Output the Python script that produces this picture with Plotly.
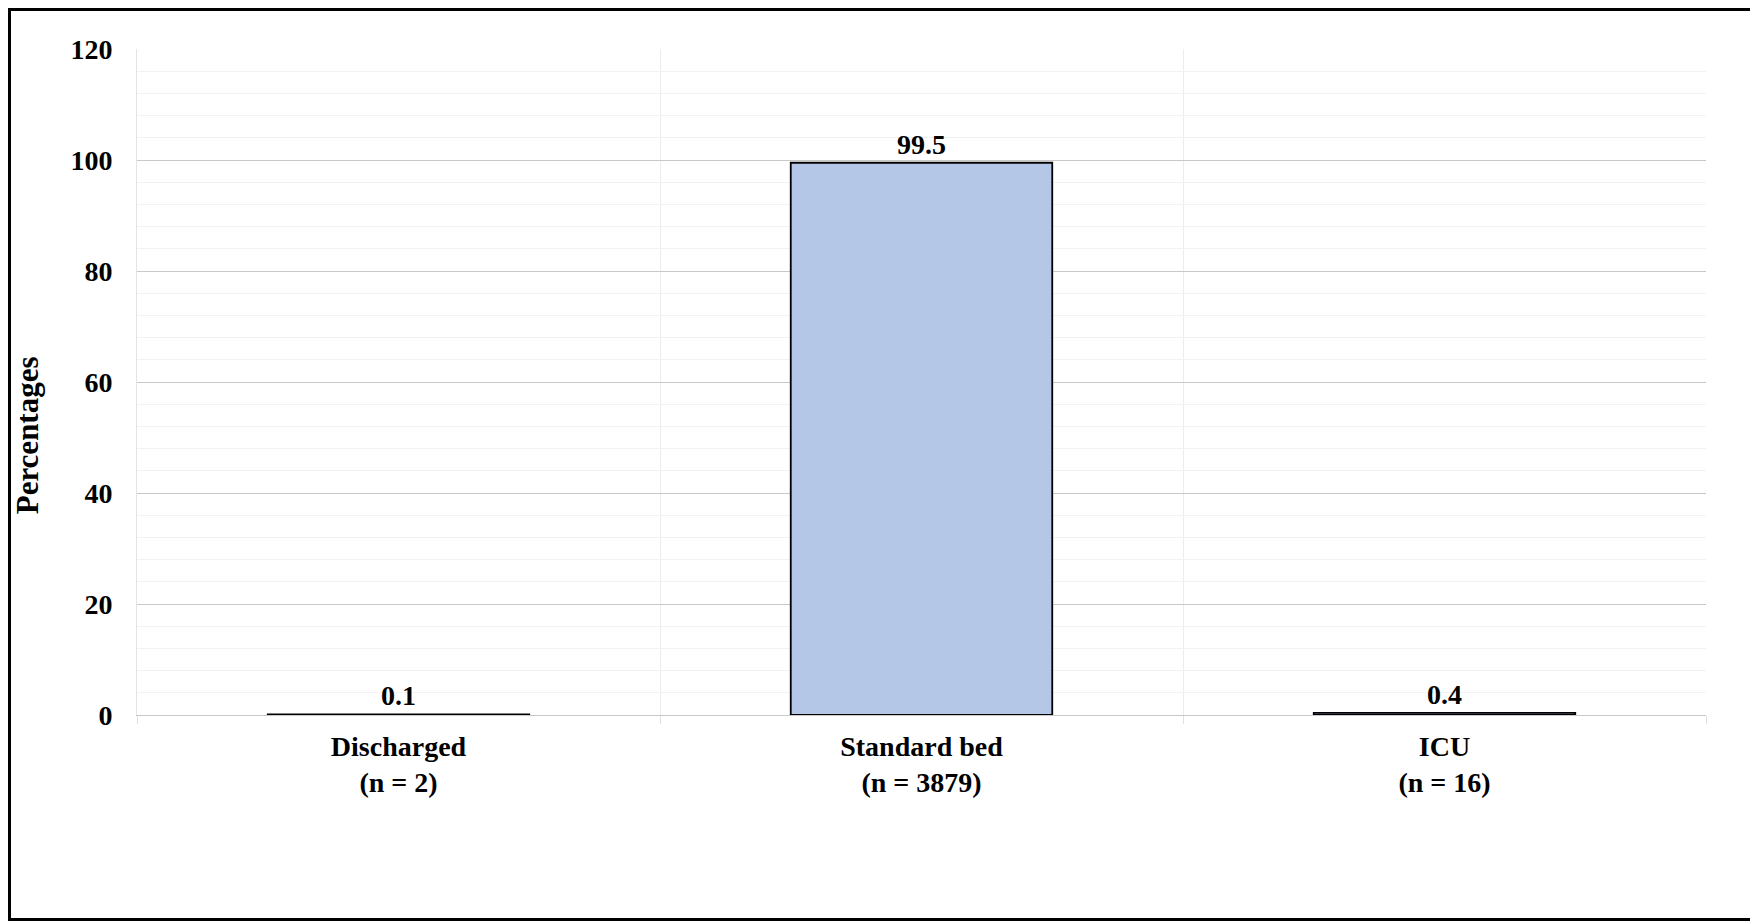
import plotly.graph_objects as go

# данные
categories = ["Discharged<br>(n = 2)", "Standard bed<br>(n = 3879)", "ICU<br>(n = 16)"]
percentages = [0.1, 99.5, 0.4]
y_ticks = [0, 20, 40, 60, 80, 100, 120]

# страница смещена на 8px (отступ body), поэтому фигура чуть меньше окна
W, H = 1750, 913
ml, mr, mt, mb = 129, 52, 41, 206
pw = W - ml - mr
ph = H - mt - mb

font = dict(family="Liberation Serif, Times New Roman, serif", color="black", size=28)

fig = go.Figure()
fig.add_trace(go.Bar(
    x=list(range(len(categories))),
    y=percentages,
    width=0.5,
    marker=dict(color="#B4C7E7", line=dict(color="black", width=1.8)),
    text=[f"<b>{v}</b>" for v in percentages],
    textposition="outside",
    textfont=font,
    cliponaxis=False,
))

fig.update_layout(
    width=W, height=H,
    margin=dict(l=ml, r=mr, t=mt, b=mb),
    plot_bgcolor="white", paper_bgcolor="white",
    showlegend=False,
    font=font,
    xaxis=dict(
        range=[-0.5, 2.5],
        tickvals=list(range(len(categories))),
        ticktext=[f"<b>{c}</b>" for c in categories],
        showgrid=False,
        ticks="",
        showline=True, linecolor="#c8c8c8", linewidth=1,
        ticklabelstandoff=6,
        zeroline=False,
        minor=dict(tickvals=[-0.5, 0.5, 1.5, 2.5], showgrid=True, gridcolor="#ececec",
                   gridwidth=1, ticks="outside", ticklen=8, tickcolor="#e0e0e0"),
    ),
    yaxis=dict(
        range=[0, 120],
        tickvals=y_ticks,
        ticktext=[f"<b>{t}</b>" for t in y_ticks],
        showgrid=True, gridcolor="#c8c8c8", gridwidth=1,
        zeroline=False,
        showline=True, linecolor="#e4e4e4",
        ticklabelstandoff=18,
        minor=dict(dtick=4, showgrid=True, gridcolor="#f2f2f2", gridwidth=1),
    ),
)

# подпись оси Y (в оригинале она сдвинута ниже центра)
fig.add_annotation(text="<b>Percentages</b>", xref="paper", yref="paper",
                   x=-(ml - 19) / pw, y=0.42, textangle=-90,
                   xanchor="center", yanchor="middle", showarrow=False,
                   font=dict(font, size=31))

# рамка вокруг всей картинки
fig.add_shape(type="rect", xref="paper", yref="paper",
              x0=-(ml - 1.5) / pw, x1=1 + (mr - 1.5) / pw,
              y0=-(mb - 1.5) / ph, y1=1 + (mt - 1.5) / ph,
              line=dict(color="black", width=3), layer="above")

fig.write_html("out.html")
